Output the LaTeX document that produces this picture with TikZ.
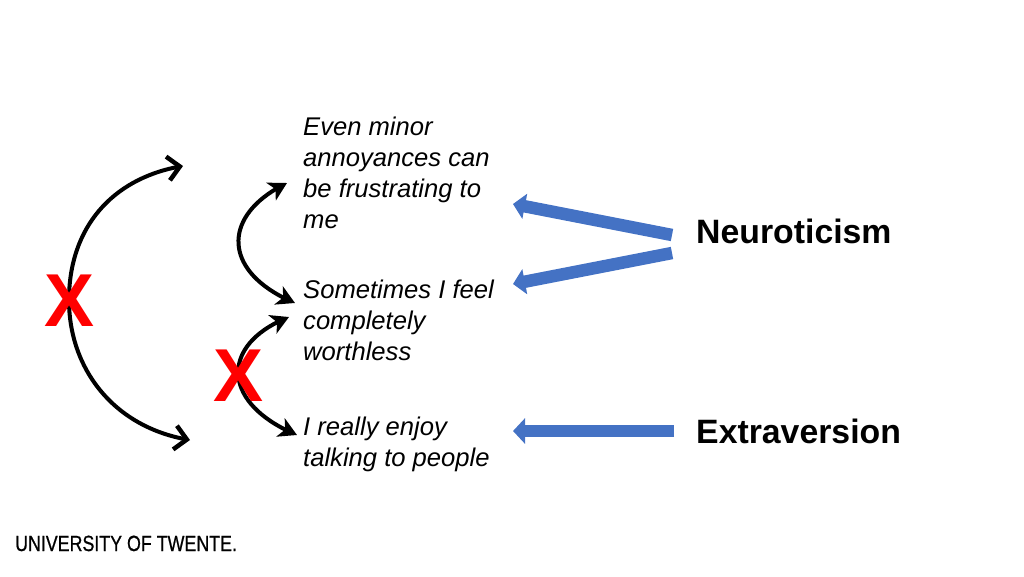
\documentclass[tikz,border=0pt]{standalone}
\usepackage{fontspec}
\setmainfont{Liberation Sans}
\newfontfamily\logofont[FakeBold=0.8]{Liberation Sans}
\usetikzlibrary{arrows.meta, bending}
\definecolor{arrowblue}{HTML}{4472C4}
\tikzset{
	item/.style={anchor=north west, inner sep=0pt, align=left, font=\fontsize{25.6}{31}\selectfont\itshape},
	trait/.style={anchor=base west, inner sep=0pt, font=\fontsize{33.8}{40}\selectfont\bfseries},
	cross/.style={inner sep=0pt, text=red, font=\fontsize{75}{75}\selectfont\bfseries},
	bigarc/.style={line width=4pt, {Straight Barb[length=12pt,width=24pt,line width=4.5pt]}-{Straight Barb[length=12pt,width=24pt,line width=4.5pt]}},
	smallarc/.style={line width=4pt, {Stealth[length=18pt,width=20pt,inset=5pt]}-{Stealth[length=18pt,width=20pt,inset=5pt]}},
	loading/.style={line width=12.5pt, arrowblue, -{Triangle[length=12pt,width=25pt]}}
}
\begin{document}
\begin{tikzpicture}[x=1pt, y=-1pt]
	\useasboundingbox (0, 0) rectangle (1024, 576);

	\node [item] (annoy) at (303, 117) {Even minor\\annoyances can\\be frustrating to\\me};
	\node [item] (worthless) at (303, 280) {Sometimes I feel\\completely\\worthless};
	\node [item] (talking) at (303, 417) {I really enjoy\\talking to people};
	\node [trait] (neuro) at (696, 243) {Neuroticism};
	\node [trait] (extra) at (696, 443) {Extraversion};

	\coordinate (bigtop) at (183, 166);
	\coordinate (bigmid) at (69, 300);
	\coordinate (bigbottom) at (190, 440);
	\coordinate (aa) at (287, 183);
	\coordinate (ab) at (295, 303);
	\coordinate (ba) at (289, 317);
	\coordinate (bb) at (297, 435);
	\draw [bigarc] (bigtop) .. controls (115, 177) and (69, 225) .. (bigmid) .. controls (69, 370) and (115, 428) .. (bigbottom);
	\draw [smallarc] (aa) .. controls (221, 215) and (221, 272) .. (ab);
	\draw [smallarc] (ba) .. controls (220, 344) and (220, 403) .. (bb);

	\node [cross] (bigx) at (70, 301) {X};
	\node [cross] (smallx) at (239, 376) {X};

	\coordinate (na) at (672, 235);
	\coordinate (nb) at (672, 253);
	\coordinate (ea) at (674, 431);
	\coordinate (ta) at (513, 204);
	\coordinate (tb) at (513, 284);
	\coordinate (tc) at (513, 431);
	\draw [loading] (na) -- (ta);
	\draw [loading] (nb) -- (tb);
	\draw [loading] (ea) -- (tc);

	\node [anchor=base west, inner sep=0pt, xscale=0.81, font=\fontsize{22}{22}\logofont] (logo) at (15, 551) {UNIVERSITY OF TWENTE.};
\end{tikzpicture}
\end{document}
